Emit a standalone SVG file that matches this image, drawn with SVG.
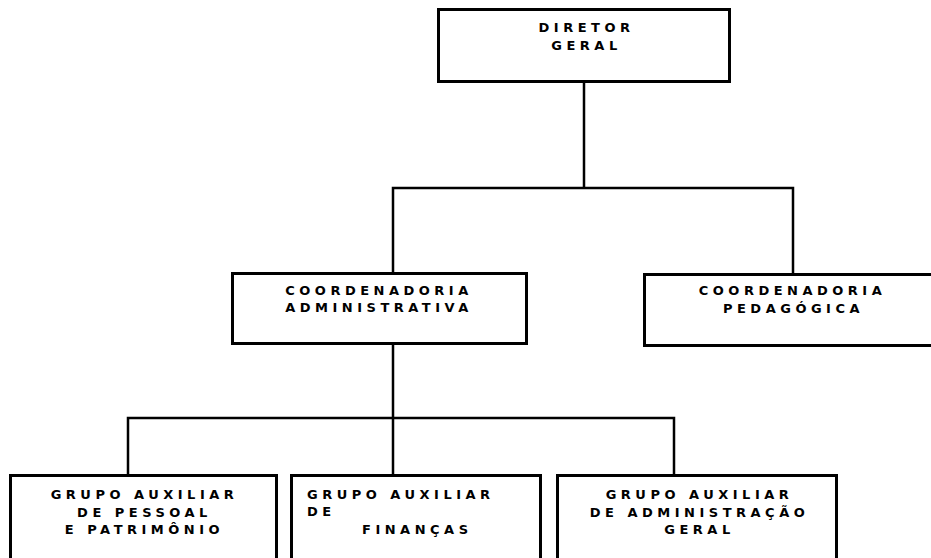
<svg xmlns="http://www.w3.org/2000/svg" width="931" height="558" viewBox="0 0 931 558">
  <style>
    .box { fill: #ffffff; stroke: #000000; stroke-width: 3; }
    .lbl { font-family: "DejaVu Sans", Verdana, sans-serif; font-weight: bold; font-size: 13px; letter-spacing: 4.5px; fill: #000000; }
    .c { text-anchor: middle; }
    .conn { fill: none; stroke: #000000; stroke-width: 2.5; stroke-linecap: square; }
  </style>
  <rect width="931" height="558" fill="#ffffff"/>
  <g id="connectors">
    <path class="conn" d="M584,82 V188 M393,188 H793 M393,188 V273 M793,188 V274"/>
    <path class="conn" d="M393,343 V475 M128,418 H674 M128,418 V475 M674,418 V475"/>
  </g>
  <g id="diretor-geral">
    <rect class="box" x="438.5" y="9.5" width="291" height="72"/>
    <text class="lbl c" x="586.5" y="32">DIRETOR</text>
    <text class="lbl c" x="586.5" y="50">GERAL</text>
  </g>
  <g id="coord-administrativa">
    <rect class="box" x="232.5" y="273.5" width="294" height="70"/>
    <text class="lbl c" x="379" y="295">COORDENADORIA</text>
    <text class="lbl c" x="379" y="312">ADMINISTRATIVA</text>
  </g>
  <g id="coord-pedagogica">
    <rect class="box" x="644.5" y="274.5" width="300" height="71"/>
    <text class="lbl c" x="792.5" y="295">COORDENADORIA</text>
    <text class="lbl c" x="793.5" y="313">PEDAGÓGICA</text>
  </g>
  <g id="grupo-pessoal">
    <rect class="box" x="10.5" y="475.5" width="266" height="100"/>
    <text class="lbl c" x="144.5" y="499">GRUPO AUXILIAR</text>
    <text class="lbl c" x="144.5" y="517">DE PESSOAL</text>
    <text class="lbl c" x="144.5" y="534">E PATRIMÔNIO</text>
  </g>
  <g id="grupo-financas">
    <rect class="box" x="291.5" y="475.5" width="249" height="100"/>
    <text class="lbl" x="307" y="499">GRUPO AUXILIAR</text>
    <text class="lbl" x="307" y="516">DE</text>
    <text class="lbl" x="362" y="534">FINANÇAS</text>
  </g>
  <g id="grupo-administracao">
    <rect class="box" x="557.5" y="475.5" width="279" height="100"/>
    <text class="lbl c" x="699.5" y="499">GRUPO AUXILIAR</text>
    <text class="lbl c" x="699.5" y="517">DE ADMINISTRAÇÃO</text>
    <text class="lbl c" x="699.5" y="534">GERAL</text>
  </g>
</svg>
